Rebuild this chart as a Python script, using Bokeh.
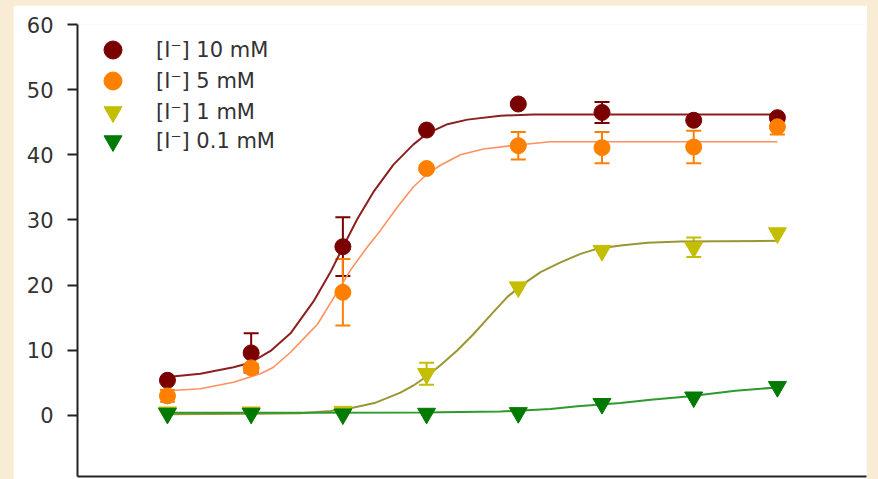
from bokeh.plotting import figure
from bokeh.models import ColumnDataSource, Whisker, TeeHead, Legend, LegendItem, FixedTicker, Range1d, Spacer
from bokeh.layouts import row, column
from bokeh.embed import file_html
from bokeh.resources import INLINE

# ---- data ----
conc = [1, 3, 10, 30, 100, 300, 1000, 3000]

labels = ["[I\u207b] 10 mM", "[I\u207b] 5 mM", "[I\u207b] 1 mM", "[I\u207b] 0.1 mM"]

red_mean = [5.4, 9.6, 25.9, 43.8, 47.8, 46.5, 45.3, 45.7]
red_sem = [0.0, 3.0, 4.5, 0.0, 0.0, 1.6, 0.0, 0.3]

orange_mean = [3.0, 7.3, 18.9, 37.9, 41.4, 41.1, 41.2, 44.3]
orange_sem = [0.9, 0.6, 5.1, 0.0, 2.1, 2.4, 2.5, 1.2]

yellow_mean = [0.5, 0.5, 0.6, 6.4, 19.7, 25.3, 25.8, 28.0]
yellow_sem = [0.0, 0.0, 0.0, 1.7, 0.0, 0.0, 1.5, 0.0]

green_mean = [0.3, 0.3, 0.2, 0.3, 0.4, 1.8, 2.8, 4.4]
green_sem = [0.0, 0.0, 0.0, 0.0, 0.0, 0.0, 0.0, 0.0]

# fitted curves, points
red_fit_x = [1, 1.54, 2.38, 2.97, 3.87, 5.03, 6.8, 8.5, 10.08, 12.11, 14.94, 19.43,
             25.27, 30.37, 39.47, 51.3, 79.1, 122.2, 3000]
red_fit_y = [5.9, 6.4, 7.4, 8.1, 9.9, 12.6, 17.5, 22.0, 26.0, 30.2, 34.3, 38.5,
             41.6, 43.3, 44.7, 45.4, 46.0, 46.2, 46.2]

orange_fit_x = [1, 1.54, 2.38, 3.39, 4.02, 5.03, 6.28, 7.17, 8.84, 11.05, 13.81, 16.38,
                20.47, 25.27, 30.37, 35.98, 46.8, 63.4, 98.9, 152.6, 3000]
orange_fit_y = [3.8, 4.1, 5.1, 6.4, 7.4, 9.7, 12.4, 14.0, 18.0, 22.3, 25.9, 28.4,
                32.0, 35.1, 37.1, 38.4, 40.0, 40.9, 41.5, 42.0, 42.0]

yellow_fit_x = [1, 2.97, 5.73, 8.5, 11.05, 15.14, 21.28, 25.27, 30.37, 35.98, 45.0, 55.6,
                69.5, 86.7, 107.1, 133.9, 174.0, 226.3, 283.1, 382.8, 545.3, 841, 3000]
yellow_fit_y = [0.2, 0.25, 0.35, 0.7, 1.1, 1.9, 3.5, 4.6, 6.1, 7.7, 10.0, 12.5,
                15.4, 18.2, 20.2, 22.0, 23.5, 24.8, 25.6, 26.1, 26.5, 26.7, 26.8]

green_fit_x = [1, 5.73, 27.7, 79.1, 152.6, 217.6, 382.8, 567.5, 922, 1730, 3000]
green_fit_y = [0.4, 0.4, 0.45, 0.6, 1.0, 1.4, 1.9, 2.4, 2.9, 3.8, 4.3]

y_ticks = [0, 10, 20, 30, 40, 50, 60]

# ---- styles ----
FONT = "DejaVu Sans"
TEXT = "#333333"
CREAM = "#f8ecd4"

series = [
    dict(mean=red_mean, sem=red_sem, fx=red_fit_x, fy=red_fit_y, marker="circle", size=16,
         color="#7a0000", line="#8c1f1f", lw=2.0),
    dict(mean=orange_mean, sem=orange_sem, fx=orange_fit_x, fy=orange_fit_y, marker="circle", size=16,
         color="#ff8000", line="#ff9060", lw=1.6),
    dict(mean=yellow_mean, sem=yellow_sem, fx=yellow_fit_x, fy=yellow_fit_y, marker="inverted_triangle", size=18,
         color="#c4be00", line="#9a9632", lw=2.0),
    dict(mean=green_mean, sem=green_sem, fx=green_fit_x, fy=green_fit_y, marker="inverted_triangle", size=18,
         color="#007a00", line="#2e9a2e", lw=2.0),
]

p = figure(width=854, height=474, output_backend="svg", toolbar_location=None,
           x_axis_type="log", x_range=Range1d(0.307, 9660), y_range=Range1d(-9.37, 60),
           min_border_left=64, min_border_right=1, min_border_top=19, min_border_bottom=3)
p.background_fill_color = "white"
p.border_fill_color = "white"
p.outline_line_color = None
p.grid.visible = False

# y axis
ya = p.yaxis[0]
ya.ticker = FixedTicker(ticks=y_ticks)
ya.axis_line_color = "#222222"
ya.axis_line_width = 2
ya.major_tick_line_color = "#222222"
ya.major_tick_line_width = 2
ya.major_tick_out = 10
ya.major_tick_in = 0
ya.minor_tick_line_color = None
ya.major_label_standoff = 14
ya.major_label_text_font = FONT
ya.major_label_text_font_size = "21px"
ya.major_label_text_color = TEXT

# x axis (labels are cut off in the reference)
xa = p.xaxis[0]
xa.axis_line_color = "#222222"
xa.axis_line_width = 2
xa.major_tick_line_color = None
xa.minor_tick_line_color = None
xa.major_tick_out = 0
xa.major_tick_in = 0
xa.minor_tick_out = 0
xa.minor_tick_in = 0
xa.major_label_standoff = 0
xa.major_label_text_font_size = "0px"
xa.major_label_text_color = None

# fitted curves
for s in series:
    p.line(s["fx"], s["fy"], line_color=s["line"], line_width=s["lw"])

# error bars
for s in series:
    xs = [c for c, e in zip(conc, s["sem"]) if e > 0]
    if not xs:
        continue
    ms = [m for m, e in zip(s["mean"], s["sem"]) if e > 0]
    es = [e for e in s["sem"] if e > 0]
    src = ColumnDataSource(dict(x=xs, upper=[m + e for m, e in zip(ms, es)],
                                lower=[m - e for m, e in zip(ms, es)]))
    w = Whisker(base="x", upper="upper", lower="lower", source=src, dimension="height",
                line_color=s["color"], line_width=2, level="underlay",
                upper_head=TeeHead(size=15, line_color=s["color"], line_width=2),
                lower_head=TeeHead(size=15, line_color=s["color"], line_width=2))
    p.add_layout(w)

# markers
renderers = []
for s in series:
    r = p.scatter(conc, s["mean"], marker=s["marker"], size=s["size"],
                  fill_color=s["color"], line_color=s["color"])
    renderers.append(r)

# one single-item legend per row (gives 30 px row pitch with large glyphs)
legend_bottoms = [404, 373, 342, 313]  # screen px above frame bottom
for lab, r, vy in zip(labels, renderers, legend_bottoms):
    lg = Legend(items=[LegendItem(label=lab, renderers=[r])],
                location=(13, vy), glyph_width=45, glyph_height=45,
                padding=0, margin=0, spacing=0, label_standoff=21,
                label_text_font=FONT, label_text_font_size="21px", label_text_color=TEXT,
                border_line_color=None, background_fill_alpha=0)
    p.add_layout(lg)

layout = row(Spacer(width=13, height=479),
             column(Spacer(width=854, height=5), p, spacing=0),
             Spacer(width=11, height=479),
             spacing=0, styles={"background-color": CREAM})

open("out.html", "w").write(file_html(layout, INLINE))
